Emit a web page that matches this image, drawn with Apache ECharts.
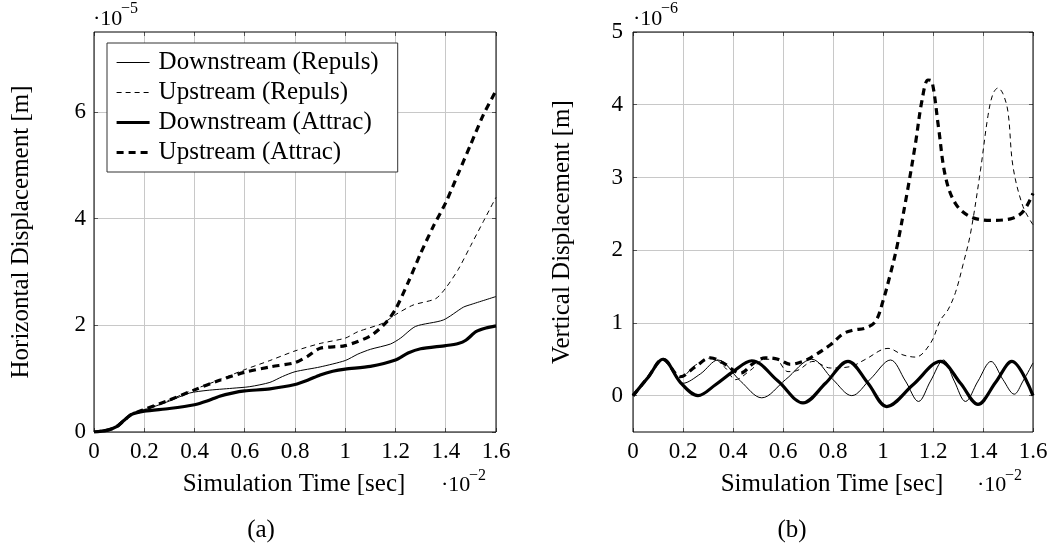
<!DOCTYPE html>
<html>
<head>
<meta charset="utf-8">
<script src="https://cdn.jsdelivr.net/npm/echarts@6/dist/echarts.min.js"></script>
<style>
html,body{margin:0;padding:0;background:#fff;}
#chart{width:1055px;height:550px;}
</style>
</head>
<body>
<div id="chart"></div>
<script>
// ---- data (time in 1e-2 s; horizontal in 1e-5 m; vertical in 1e-6 m) ----
const seriesNames = ['Downstream (Repuls)', 'Upstream (Repuls)', 'Downstream (Attrac)', 'Upstream (Attrac)'];
const timeTicks = [0, 0.2, 0.4, 0.6, 0.8, 1, 1.2, 1.4, 1.6];
const hTicks = [0, 2, 4, 6];
const vTicks = [0, 1, 2, 3, 4, 5];

const downRepulsH = [[0,0],[0.05,0.03],[0.09,0.1],[0.12,0.22],[0.15,0.33],[0.2,0.41],[0.3,0.58],[0.38,0.73],[0.45,0.78],[0.55,0.82],[0.62,0.85],[0.7,0.93],[0.75,1.04],[0.8,1.13],[0.9,1.22],[1.0,1.34],[1.05,1.46],[1.1,1.55],[1.18,1.65],[1.22,1.76],[1.28,1.98],[1.39,2.1],[1.47,2.34],[1.5,2.39],[1.6,2.54]];
const upRepulsH = [[0,0],[0.05,0.03],[0.09,0.1],[0.12,0.22],[0.15,0.33],[0.2,0.42],[0.3,0.6],[0.4,0.8],[0.5,0.98],[0.6,1.17],[0.7,1.34],[0.8,1.52],[0.9,1.66],[1.0,1.76],[1.05,1.88],[1.15,2.04],[1.2,2.2],[1.27,2.38],[1.36,2.5],[1.4,2.7],[1.45,3.05],[1.5,3.5],[1.55,3.95],[1.6,4.4]];
const downAttracH = [[0,0],[0.05,0.03],[0.09,0.1],[0.12,0.22],[0.15,0.33],[0.2,0.39],[0.3,0.44],[0.4,0.51],[0.45,0.58],[0.5,0.67],[0.55,0.73],[0.6,0.77],[0.7,0.81],[0.8,0.89],[0.85,0.97],[0.9,1.07],[0.95,1.14],[1.0,1.18],[1.1,1.23],[1.2,1.35],[1.25,1.48],[1.3,1.56],[1.4,1.62],[1.45,1.66],[1.48,1.72],[1.52,1.88],[1.56,1.95],[1.6,1.99]];
const upAttracH = [[0,0],[0.05,0.03],[0.09,0.1],[0.12,0.22],[0.15,0.33],[0.2,0.42],[0.3,0.6],[0.4,0.79],[0.5,0.97],[0.6,1.12],[0.7,1.22],[0.8,1.3],[0.85,1.42],[0.9,1.57],[1.0,1.62],[1.1,1.8],[1.16,2.04],[1.2,2.3],[1.25,2.8],[1.3,3.35],[1.35,3.85],[1.4,4.3],[1.45,4.85],[1.5,5.4],[1.55,5.95],[1.6,6.4]];

const downRepulsV = [[0,0],[0.06,0.25],[0.12,0.5],[0.2,0.17],[0.27,0.3],[0.34,0.49],[0.43,0.2],[0.515,-0.03],[0.61,0.22],[0.715,0.5],[0.8,0.22],[0.875,0.0],[0.95,0.23],[1.03,0.49],[1.09,0.2],[1.142,-0.08],[1.19,0.2],[1.242,0.49],[1.285,0.2],[1.33,-0.08],[1.38,0.2],[1.432,0.47],[1.48,0.22],[1.525,0.02],[1.56,0.2],[1.6,0.45]];
const upRepulsV = [[0,0],[0.06,0.25],[0.12,0.5],[0.19,0.25],[0.25,0.42],[0.315,0.52],[0.37,0.38],[0.41,0.22],[0.47,0.35],[0.53,0.5],[0.57,0.5],[0.62,0.33],[0.66,0.35],[0.72,0.47],[0.79,0.38],[0.87,0.4],[0.93,0.5],[1.02,0.65],[1.08,0.56],[1.13,0.53],[1.19,0.72],[1.23,1.04],[1.26,1.18],[1.29,1.42],[1.32,1.8],[1.35,2.23],[1.39,3.1],[1.42,3.85],[1.44,4.15],[1.46,4.23],[1.48,4.15],[1.5,3.9],[1.52,3.15],[1.56,2.6],[1.6,2.35]];
const downAttracV = [[0,0],[0.06,0.25],[0.12,0.5],[0.19,0.18],[0.26,0],[0.33,0.15],[0.4,0.33],[0.475,0.48],[0.58,0.2],[0.68,-0.1],[0.77,0.17],[0.86,0.47],[0.94,0.17],[1.015,-0.15],[1.12,0.15],[1.23,0.47],[1.31,0.17],[1.38,-0.12],[1.45,0.18],[1.515,0.47],[1.6,0.0]];
const upAttracV = [[0,0],[0.06,0.25],[0.12,0.5],[0.19,0.26],[0.25,0.4],[0.31,0.52],[0.36,0.45],[0.43,0.31],[0.48,0.44],[0.53,0.52],[0.58,0.5],[0.63,0.43],[0.67,0.46],[0.71,0.52],[0.79,0.7],[0.84,0.85],[0.88,0.9],[0.93,0.93],[0.97,1.02],[1.0,1.3],[1.03,1.68],[1.056,2.05],[1.096,2.78],[1.13,3.47],[1.156,4.06],[1.18,4.34],[1.196,4.32],[1.222,3.69],[1.25,3.01],[1.29,2.64],[1.35,2.46],[1.43,2.41],[1.51,2.43],[1.56,2.53],[1.6,2.78]];

// ---- styling ----
const FONT = "'Liberation Serif', 'DejaVu Serif', serif";
const FS_TICK = 23;
const FS_TEXT = 25;
const GRIDC = '#c8c8c8';
const styles = [
  {width: 1, type: 'solid'},
  {width: 1, type: [5, 4]},
  {width: 3.2, type: 'solid'},
  {width: 3.2, type: [7, 5]}
];

function xAxisCfg(gi, mirror) {
  return {
    gridIndex: gi, type: 'value', min: 0, max: 1.6, position: mirror ? 'top' : 'bottom',
    axisLine: {show: false, onZero: false},
    axisTick: {show: true, inside: true, length: 4, lineStyle: {color: '#555'}, customValues: timeTicks},
    axisLabel: {show: !mirror, color: '#000', fontFamily: FONT, fontSize: FS_TICK, margin: 8, customValues: timeTicks},
    splitLine: {show: !mirror, lineStyle: {color: GRIDC, width: 1}}
  };
}
function yAxisCfg(gi, min, max, ticks, margin, mirror) {
  return {
    gridIndex: gi, type: 'value', min: min, max: max, position: mirror ? 'right' : 'left',
    axisLine: {show: false, onZero: false},
    axisTick: {show: true, inside: true, length: 4, lineStyle: {color: '#555'}, customValues: ticks},
    axisLabel: {show: !mirror, color: '#000', fontFamily: FONT, fontSize: FS_TICK, margin: margin, customValues: ticks},
    splitLine: {show: !mirror, lineStyle: {color: GRIDC, width: 1}}
  };
}
function mk(name, data, gi, idx, smooth) {
  return {
    name: name, type: 'line', xAxisIndex: gi, yAxisIndex: gi, data: data,
    showSymbol: false, symbol: 'none', smooth: smooth,
    lineStyle: {color: '#000', width: styles[idx].width, type: styles[idx].type, cap: 'butt', join: 'round'},
    itemStyle: {color: '#000'},
    z: 3 + idx
  };
}
function txt(x, y, s, size, align, rot) {
  return {
    type: 'text', x: x, y: y, rotation: rot || 0, silent: true, z: 20,
    style: {text: s, fill: '#000', font: size + 'px ' + FONT, textAlign: align || 'left', textVerticalAlign: 'middle'}
  };
}

const chart = echarts.init(document.getElementById('chart'), null, {renderer: 'canvas'});
chart.setOption({
  animation: false,
  backgroundColor: '#fff',
  grid: [
    {left: 94, top: 32, width: 402, height: 400, show: true, borderColor: '#000', borderWidth: 1, backgroundColor: 'transparent', z: 10},
    {left: 633, top: 32, width: 400, height: 400, show: true, borderColor: '#000', borderWidth: 1, backgroundColor: 'transparent', z: 10}
  ],
  xAxis: [xAxisCfg(0, false), xAxisCfg(1, false), xAxisCfg(0, true), xAxisCfg(1, true)],
  yAxis: [
    yAxisCfg(0, 0, 7.5, hTicks, 8, false), yAxisCfg(1, -0.5, 5, vTicks, 10, false),
    yAxisCfg(0, 0, 7.5, hTicks, 8, true), yAxisCfg(1, -0.5, 5, vTicks, 10, true)
  ],
  legend: {
    orient: 'vertical', left: 107, top: 43,
    data: seriesNames.map(function (n, i) {
      return {
        name: n,
        itemStyle: {opacity: 0, borderWidth: 0},
        lineStyle: {color: '#000', width: styles[i].width, type: styles[i].type, cap: 'butt'}
      };
    }),
    itemWidth: 33, itemHeight: 14, itemGap: 5,
    padding: [7, 19, 7, 8],
    borderColor: '#333', borderWidth: 1, backgroundColor: '#fff',
    selectedMode: false,
    itemStyle: {opacity: 0, borderWidth: 0},
    textStyle: {color: '#000', fontFamily: FONT, fontSize: FS_TEXT, lineHeight: 25, padding: [0, 0, 0, 4]}
  },
  series: [
    mk(seriesNames[0], downRepulsH, 0, 0, 0.25),
    mk(seriesNames[1], upRepulsH, 0, 1, 0.25),
    mk(seriesNames[2], downAttracH, 0, 2, 0.25),
    mk(seriesNames[3], upAttracH, 0, 3, 0.25),
    mk(seriesNames[0], downRepulsV, 1, 0, 0.35),
    mk(seriesNames[1], upRepulsV, 1, 1, 0.35),
    mk(seriesNames[2], downAttracV, 1, 2, 0.35),
    mk(seriesNames[3], upAttracV, 1, 3, 0.35)
  ],
  graphic: [
    txt(294, 484, 'Simulation Time [sec]', FS_TEXT, 'center'),
    txt(832, 484, 'Simulation Time [sec]', FS_TEXT, 'center'),
    txt(441, 485, '\u00b710', 22),
    txt(469, 476, '\u22122', 16),
    txt(977, 485, '\u00b710', 22),
    txt(1005, 476, '\u22122', 16),
    txt(93, 19, '\u00b710', 22),
    txt(121, 9, '\u22125', 16),
    txt(633, 19, '\u00b710', 22),
    txt(661, 9, '\u22126', 16),
    txt(21, 232, 'Horizontal Displacement [m]', FS_TEXT, 'center', Math.PI / 2),
    txt(562, 232, 'Vertical Displacement [m]', FS_TEXT, 'center', Math.PI / 2),
    txt(261, 530, '(a)', FS_TEXT, 'center'),
    txt(792, 530, '(b)', FS_TEXT, 'center')
  ]
});
</script>
</body>
</html>
